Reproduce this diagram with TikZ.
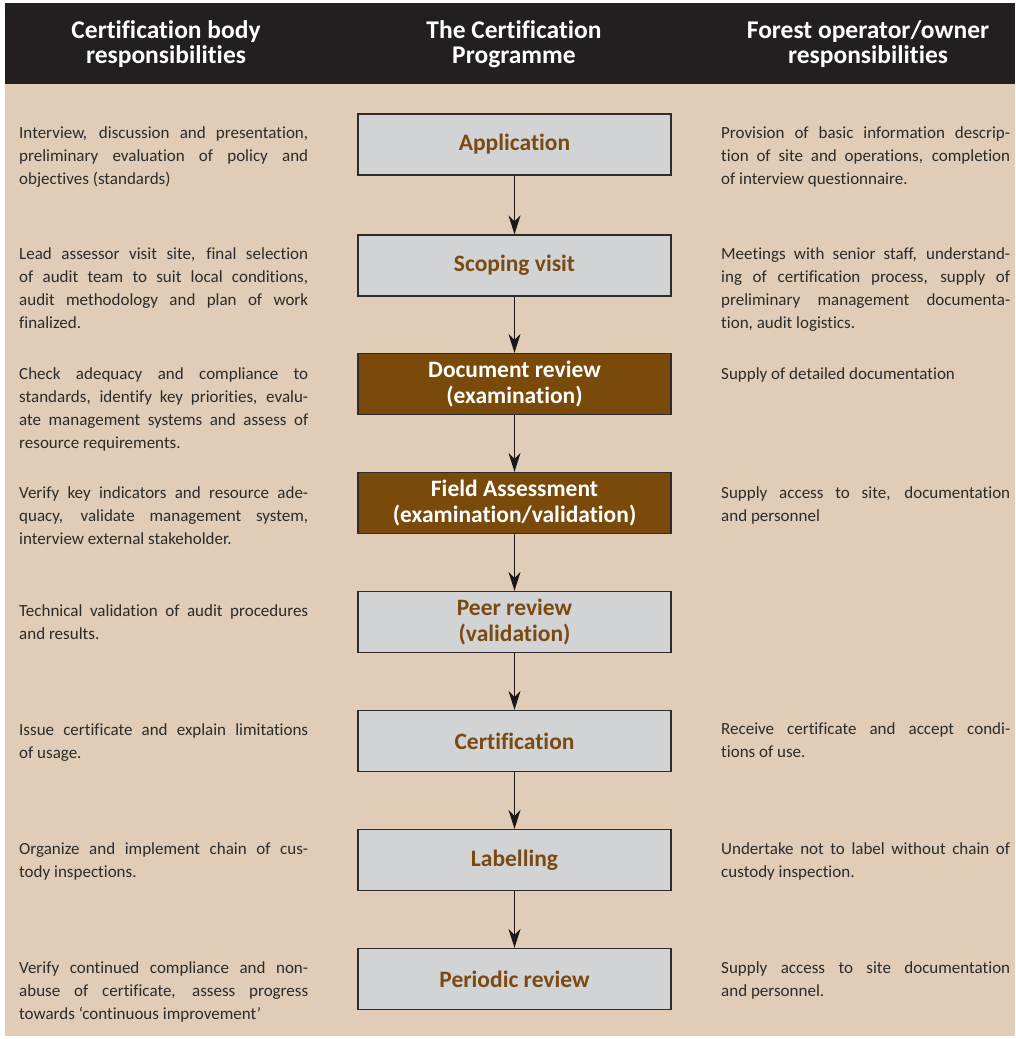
\documentclass[tikz,border=0pt]{standalone}
\usepackage{fontspec}
\setmainfont{Carlito}[Ligatures=NoCommon]
\usetikzlibrary{arrows.meta}

\definecolor{panel}{HTML}{E0CCB7}
\definecolor{headband}{HTML}{231F20}
\definecolor{stagegray}{HTML}{D1D3D4}
\definecolor{stagebrown}{HTML}{7A4A0A}
\definecolor{labelbrown}{HTML}{7B4A12}
\definecolor{bodytext}{HTML}{2B2B2B}
\definecolor{boxline}{HTML}{2E2B2C}

% fully justified column text; the first baseline is the node's base
\newcommand{\notebox}[1]{\begin{minipage}[t]{289pt}%
  \fontsize{17}{23.3}\selectfont\tolerance=10000\relax
  \hyphenpenalty=10000\relax #1\end{minipage}}

\tikzset{
  stage/.style={draw=boxline, line width=1.2pt, minimum width=313pt,
    minimum height=61pt, inner sep=0pt, align=center,
    font=\fontsize{23.5}{26}\selectfont\bfseries},
  plainstage/.style={stage, fill=stagegray, text=labelbrown},
  keystage/.style={stage, fill=stagebrown, text=white},
  note/.style={anchor=base west, inner sep=0pt, text=bodytext},
  headtext/.style={text=white, align=center, inner sep=0pt,
    font=\fontsize{25.5}{25}\selectfont\bfseries},
  flow/.style={draw=black!90, line width=1.3pt,
    -{Stealth[length=19pt,width=12pt,inset=6pt]}}
}

\begin{document}
\begin{tikzpicture}[x=1pt,y=-1pt]
\useasboundingbox (0,0) rectangle (1015,1039);

% background panels
\fill[headband] (5,3) rectangle (1015,84);
\fill[panel] (5,84) rectangle (1015,1036);

% column headings
\node[headtext] (hleft)  at (166,44.5) {Certification body\\responsibilities};
\node[headtext] (hmid)   at (514,44.5) {The Certification\\Programme};
\node[headtext] (hright) at (868,44.5) {Forest operator/owner\\responsibilities};

% programme stages
\node[plainstage] (s1) at (514.5,144.5) {Application};
\node[plainstage] (s2) at (514.5,265.5) {Scoping visit};
\node[keystage]   (s3) at (514.5,384)   {Document review\\(examination)};
\node[keystage]   (s4) at (514.5,503)   {Field Assessment\\(examination/validation)};
\node[plainstage] (s5) at (514.5,622)   {Peer review\\(validation)};
\node[plainstage] (s6) at (514.5,741)   {Certification};
\node[plainstage] (s7) at (514.5,860)   {Labelling};
\node[plainstage] (s8) at (514.5,979)   {Periodic review};

\foreach \a/\b in {s1/s2,s2/s3,s3/s4,s4/s5,s5/s6,s6/s7,s7/s8}
  \draw[flow] (\a) -- (\b);

% certification body responsibilities
\node[note] (l1) at (19,138) {\notebox{Interview, discussion and presentation,\linebreak preliminary evaluation of policy and\linebreak objectives (standards)}};
\node[note] (l2) at (19,259) {\notebox{Lead assessor visit site, final selection\linebreak of audit team to suit local conditions,\linebreak audit methodology and plan of work\linebreak finalized.}};
\node[note] (l3) at (19,379) {\notebox{Check adequacy and compliance to\linebreak standards, identify key priorities, evalu-\linebreak ate management systems and assess of\linebreak resource requirements.}};
\node[note] (l4) at (19,498) {\notebox{Verify key indicators and resource ade-\linebreak quacy, validate management system,\linebreak interview external stakeholder.}};
\node[note] (l5) at (19,616) {\notebox{Technical validation of audit procedures\linebreak and results.}};
\node[note] (l6) at (19,735) {\notebox{Issue certificate and explain limitations\linebreak of usage.}};
\node[note] (l7) at (19,854) {\notebox{Organize and implement chain of cus-\linebreak tody inspections.}};
\node[note] (l8) at (19,973) {\notebox{Verify continued compliance and non-\linebreak abuse of certificate, assess progress\linebreak towards ‘continuous improvement’}};

% forest operator/owner responsibilities
\node[note] (r1) at (721,138) {\notebox{Provision of basic information descrip-\linebreak tion of site and operations, completion\linebreak of interview questionnaire.}};
\node[note] (r2) at (721,259) {\notebox{Meetings with senior staff, understand-\linebreak ing of certification process, supply of\linebreak preliminary management documenta-\linebreak tion, audit logistics.}};
\node[note] (r3) at (721,379) {\notebox{Supply of detailed documentation}};
\node[note] (r4) at (721,498) {\notebox{Supply access to site, documentation\linebreak and personnel}};
\node[note] (r6) at (721,734) {\notebox{Receive certificate and accept condi-\linebreak tions of use.}};
\node[note] (r7) at (721,854) {\notebox{Undertake not to label without chain of\linebreak custody inspection.}};
\node[note] (r8) at (721,973) {\notebox{Supply access to site documentation\linebreak and personnel.}};
\end{tikzpicture}
\end{document}
